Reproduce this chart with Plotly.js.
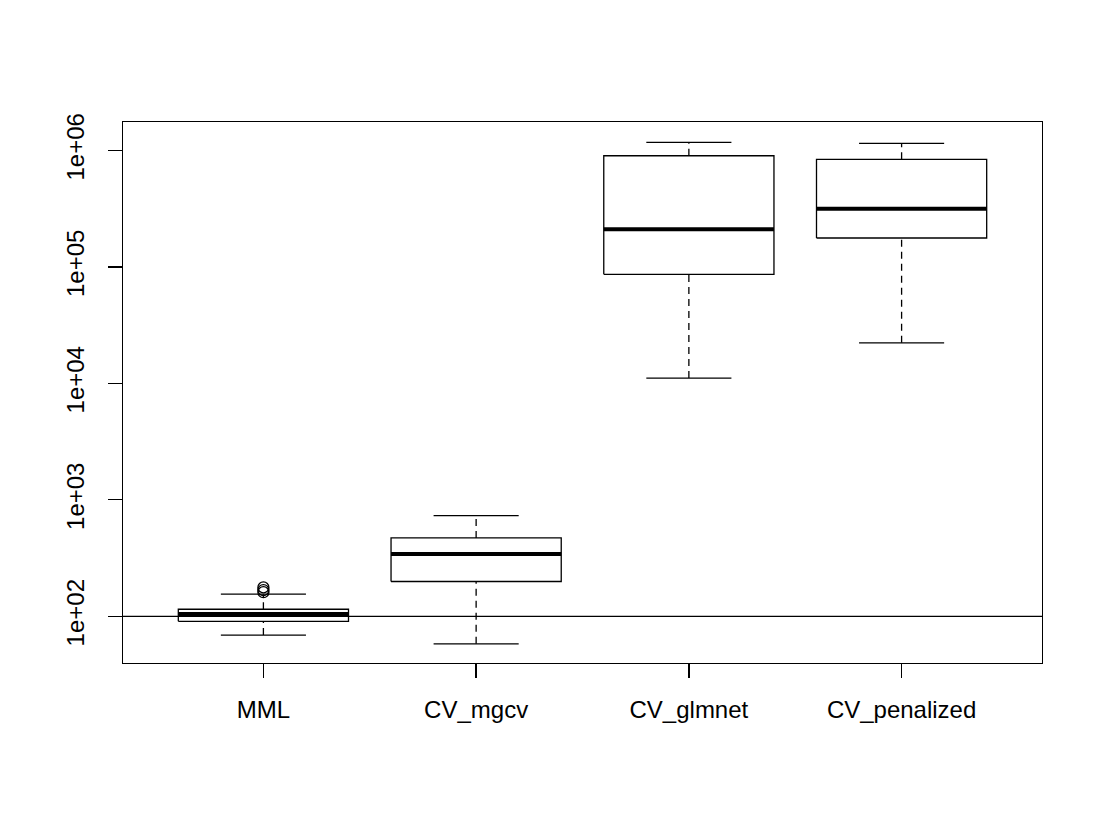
<!DOCTYPE html>
<html>
<head>
<meta charset="utf-8">
<script src="https://cdn.plot.ly/plotly-3.0.1.min.js"></script>
<style>html,body{margin:0;padding:0;background:#fff;}#chart{width:1105px;height:817px;}</style>
</head>
<body>
<div id="chart"></div>
<script>
// Data (log-scale boxplot)
const categories = ["MML", "CV_mgcv", "CV_glmnet", "CV_penalized"];
const lowerWhisker = [69, 58, 11100, 22300];
const q1 = [90.6, 199, 86300, 177000];
const median = [104.7, 343, 210000, 315000];
const q3 = [115, 471, 900000, 839000];
const upperWhisker = [155, 733, 1174000, 1151000];
const outlierCategory = [1, 1, 1];
const outlierValues = [177, 168, 161];
const referenceLine = 100;
const yTickValues = [100, 1000, 10000, 100000, 1000000];
const yTickLabels = ["1e+02", "1e+03", "1e+04", "1e+05", "1e+06"];

const halfBox = 0.4, halfCap = 0.2;
const traces = [];
const boxX = [], boxY = [], medX = [], medY = [], whX = [], whY = [], capX = [], capY = [];
categories.forEach((c, k) => {
  const i = k + 1;
  boxX.push(i - halfBox, i + halfBox, i + halfBox, i - halfBox, i - halfBox, null);
  boxY.push(q1[k], q1[k], q3[k], q3[k], q1[k], null);
  medX.push(i - halfBox, i + halfBox, null);
  medY.push(median[k], median[k], null);
  whX.push(i, i, null, i, i, null);
  whY.push(lowerWhisker[k], q1[k], null, q3[k], upperWhisker[k], null);
  capX.push(i - halfCap, i + halfCap, null, i - halfCap, i + halfCap, null);
  capY.push(lowerWhisker[k], lowerWhisker[k], null, upperWhisker[k], upperWhisker[k], null);
});
traces.push({x: whX, y: whY, mode: "lines", line: {color: "#000", width: 1.3, dash: "7px,5px"}, hoverinfo: "skip"});
traces.push({x: capX, y: capY, mode: "lines", line: {color: "#000", width: 1.3}, hoverinfo: "skip"});
traces.push({x: boxX, y: boxY, mode: "lines", line: {color: "#000", width: 1.3}, hoverinfo: "skip"});
traces.push({x: medX, y: medY, mode: "lines", line: {color: "#000", width: 4}, hoverinfo: "skip"});
traces.push({x: outlierCategory, y: outlierValues, mode: "markers",
  marker: {symbol: "circle-open", size: 11, color: "#000", line: {width: 1.3, color: "#000"}}, hoverinfo: "skip"});

const font = {family: "Liberation Sans, Arial, sans-serif", size: 24, color: "#000"};
const layout = {
  width: 1105, height: 817,
  showlegend: false,
  paper_bgcolor: "#fff", plot_bgcolor: "#fff",
  margin: {l: 123, r: 63, t: 122, b: 154},
  font: font,
  xaxis: {
    range: [0.34, 4.66], showgrid: false, zeroline: false,
    showline: true, mirror: true, linecolor: "#000", linewidth: 1.3,
    tickmode: "array", tickvals: [1, 2, 3, 4], ticktext: categories,
    ticks: "outside", ticklen: 14, tickwidth: 1.3, tickcolor: "#000",
    ticklabelstandoff: 11, tickfont: font
  },
  yaxis: {
    type: "log", range: [1.599, 6.244], showgrid: false, zeroline: false,
    showline: true, mirror: true, linecolor: "#000", linewidth: 1.3,
    tickmode: "array", tickvals: yTickValues, ticktext: yTickLabels,
    ticks: "outside", ticklen: 14, tickwidth: 1.3, tickcolor: "#000",
    tickangle: -90, ticklabelstandoff: 14, tickfont: font
  },
  shapes: [{type: "line", xref: "paper", x0: 0, x1: 1, yref: "y", y0: referenceLine, y1: referenceLine,
    line: {color: "#000", width: 1.3}}]
};
Plotly.newPlot("chart", traces, layout, {displayModeBar: false, staticPlot: true});
</script>
</body>
</html>
